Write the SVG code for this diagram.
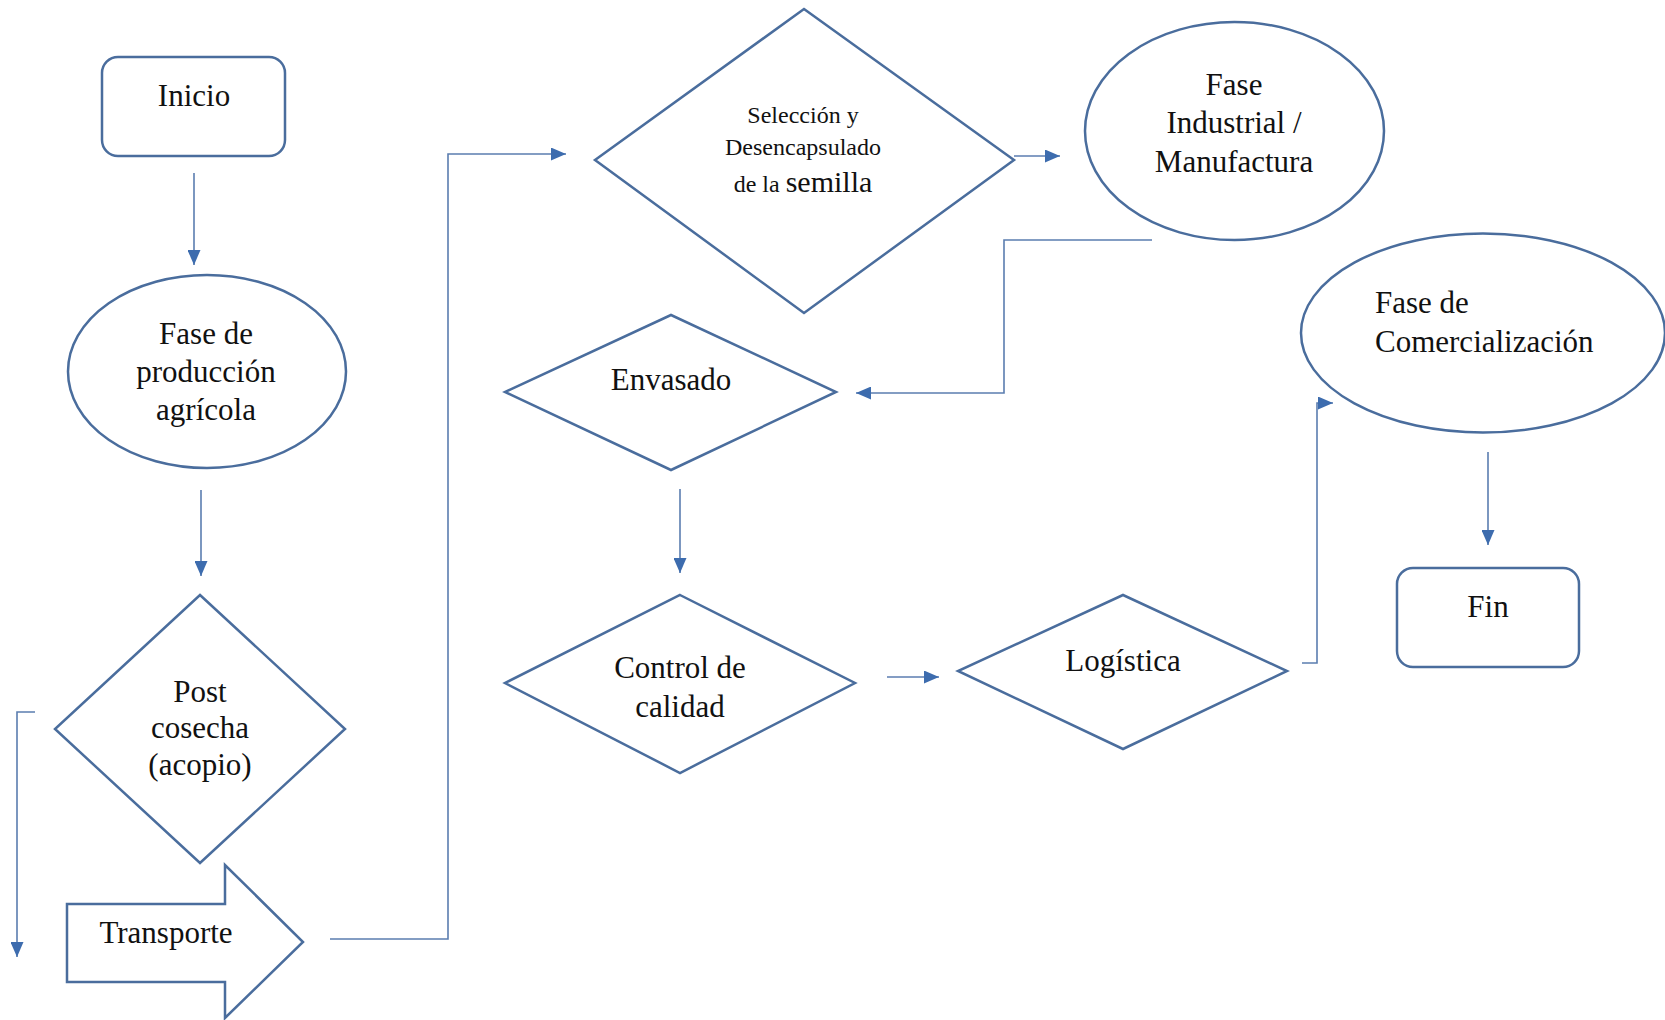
<svg xmlns="http://www.w3.org/2000/svg" width="1665" height="1020" viewBox="0 0 1665 1020">
<style>
.shape{fill:#ffffff;stroke:#4a6d9d;stroke-width:2.5}
.conn{fill:none;stroke:#5b7db0;stroke-width:1.6}
.t{font-family:"Liberation Serif","Times New Roman",serif;font-size:31px;fill:#111;text-anchor:middle}
.s{font-size:24px}
.l{text-anchor:start}
</style>
<defs>
<marker id="ah" markerUnits="userSpaceOnUse" markerWidth="15" markerHeight="13" refX="15" refY="6.5" orient="auto">
<path d="M0,0 L15,6.5 L0,13 z" fill="#3d6cae"/>
</marker>
</defs>
<rect width="1665" height="1020" fill="#ffffff"/>
<g id="connectors">
<path class="conn" d="M194,173 V265" marker-end="url(#ah)"/>
<path class="conn" d="M201,490 V576" marker-end="url(#ah)"/>
<path class="conn" d="M35,712 H17 V957" marker-end="url(#ah)"/>
<path class="conn" d="M330,939 H448 V154 H566" marker-end="url(#ah)"/>
<path class="conn" d="M1014,156 H1060" marker-end="url(#ah)"/>
<path class="conn" d="M1152,240 H1004 V393 H856" marker-end="url(#ah)"/>
<path class="conn" d="M680,489 V573" marker-end="url(#ah)"/>
<path class="conn" d="M887,677 H939" marker-end="url(#ah)"/>
<path class="conn" d="M1302,663 H1317 V403 H1333" marker-end="url(#ah)"/>
<path class="conn" d="M1488,452 V545" marker-end="url(#ah)"/>
</g>
<g id="inicio">
<rect class="shape" x="102" y="57" width="183" height="99" rx="16"/>
<text class="t" x="194" y="106">Inicio</text>
</g>
<g id="produccion">
<ellipse class="shape" cx="207" cy="371.5" rx="139" ry="96.5"/>
<text class="t" x="206" y="344">Fase de</text>
<text class="t" x="206" y="382">producción</text>
<text class="t" x="206" y="420">agrícola</text>
</g>
<g id="postcosecha">
<polygon class="shape" points="200,595 345,729 200,863 55,729"/>
<text class="t" x="200" y="702">Post</text>
<text class="t" x="200" y="738">cosecha</text>
<text class="t" x="200" y="775">(acopio)</text>
</g>
<g id="transporte">
<polygon class="shape" points="67,904 225,904 225,865 303,942 225,1018 225,982 67,982"/>
<text class="t" x="166" y="943">Transporte</text>
</g>
<g id="seleccion">
<polygon class="shape" points="804,9 1014,160 804,313 595,160"/>
<text class="t s" x="803" y="123">Selección y</text>
<text class="t s" x="803" y="155">Desencapsulado</text>
<text class="t s" x="803" y="192">de la <tspan font-size="30">semilla</tspan></text>
</g>
<g id="industrial">
<ellipse class="shape" cx="1234.5" cy="131" rx="149.5" ry="109"/>
<text class="t" x="1234" y="95">Fase</text>
<text class="t" x="1234" y="133">Industrial /</text>
<text class="t" x="1234" y="172">Manufactura</text>
</g>
<g id="envasado">
<polygon class="shape" points="671,315 836,392 671,470 505,392"/>
<text class="t" x="671" y="390">Envasado</text>
</g>
<g id="control">
<polygon class="shape" points="680,595 855,683 680,773 505,683"/>
<text class="t" x="680" y="678">Control de</text>
<text class="t" x="680" y="717">calidad</text>
</g>
<g id="logistica">
<polygon class="shape" points="1123,595 1287,671 1123,749 958,671"/>
<text class="t" x="1123" y="671">Logística</text>
</g>
<g id="comercializacion">
<ellipse class="shape" cx="1483" cy="333" rx="182" ry="99.5"/>
<text class="t l" x="1375" y="313">Fase de</text>
<text class="t l" x="1375" y="352">Comercialización</text>
</g>
<g id="fin">
<rect class="shape" x="1397" y="568" width="182" height="99" rx="16"/>
<text class="t" x="1488" y="617">Fin</text>
</g>
</svg>
